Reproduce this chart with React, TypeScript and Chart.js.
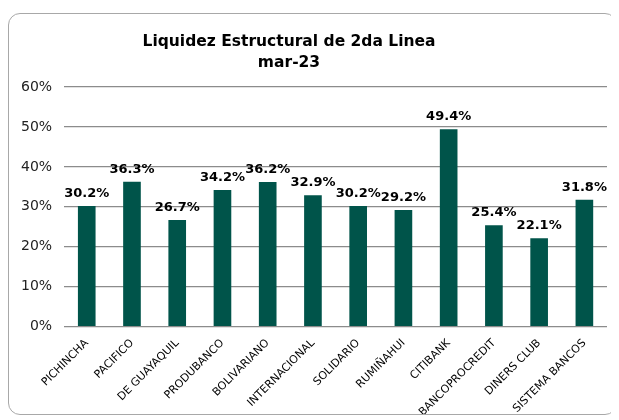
import React, { useEffect, useRef } from "react";
import { Chart, registerables } from "chart.js";

Chart.register(...registerables);

const categories = [
  "PICHINCHA",
  "PACIFICO",
  "DE GUAYAQUIL",
  "PRODUBANCO",
  "BOLIVARIANO",
  "INTERNACIONAL",
  "SOLIDARIO",
  "RUMIÑAHUI",
  "CITIBANK",
  "BANCOPROCREDIT",
  "DINERS CLUB",
  "SISTEMA BANCOS",
];
const values = [30.2, 36.3, 26.7, 34.2, 36.2, 32.9, 30.2, 29.2, 49.4, 25.4, 22.1, 31.8];
const titleLines = ["Liquidez Estructural de 2da Linea", "mar-23"];
const yMax = 60;
const yStep = 10;

const BAR_COLOR = "#00544a";
const FONT = "'DejaVu Sans', Verdana, sans-serif";

const titlePlugin = {
  id: "customTitle",
  afterDraw(chart: any) {
    const { ctx } = chart;
    ctx.save();
    ctx.font = `bold 15.5px ${FONT}`;
    ctx.fillStyle = "#000";
    ctx.textAlign = "center";
    ctx.textBaseline = "alphabetic";
    const cx = 280;
    ctx.fillText(titleLines[0], cx, 32);
    ctx.fillText(titleLines[1], cx, 53);
    ctx.restore();
  },
};

const labelPlugin = {
  id: "valueLabels",
  afterDatasetsDraw(chart: any) {
    const { ctx } = chart;
    const meta = chart.getDatasetMeta(0);
    ctx.save();
    ctx.font = `bold 13px ${FONT}`;
    ctx.fillStyle = "#000";
    ctx.textAlign = "center";
    ctx.textBaseline = "alphabetic";
    meta.data.forEach((bar: any, i: number) => {
      const v = chart.data.datasets[0].data[i];
      ctx.fillText(v.toFixed(1) + "%", bar.x, bar.y - 9);
    });
    ctx.restore();
  },
};

export default function App() {
  const ref = useRef<HTMLCanvasElement>(null);
  useEffect(() => {
    if (!ref.current) return;
    const chart = new Chart(ref.current, {
      type: "bar",
      data: {
        labels: categories,
        datasets: [
          {
            data: values,
            backgroundColor: BAR_COLOR,
            barPercentage: 0.39,
            categoryPercentage: 1,
          },
        ],
      },
      plugins: [labelPlugin, titlePlugin],
      options: {
        animation: false,
        responsive: false,
        layout: { padding: { top: 73, right: 0, left: 0, bottom: -7 } },
        plugins: {
          legend: { display: false },
          tooltip: { enabled: false },
          title: { display: false },
        },
        scales: {
          x: {
            grid: { display: false },
            border: { display: false },
            ticks: {
              color: "#000",
              font: { family: FONT, size: 11 },
              maxRotation: 45,
              minRotation: 45,
              autoSkip: false,
              padding: 2,
            },
          },
          y: {
            min: 0,
            max: yMax,
            ticks: {
              stepSize: yStep,
              color: "#222",
              font: { family: FONT, size: 14 },
              padding: 12,
              callback: (v: any) => v + "%",
            },
            grid: { color: "#8c8c8c", lineWidth: 1.3, drawTicks: false },
            border: { display: false },
          },
        },
      },
    });
    return () => chart.destroy();
  }, []);
  return (
    <div
      style={{
        marginTop: 5,
        width: 609,
        height: 402,
        border: "1px solid #a8a8a8",
        borderRadius: 12,
        boxSizing: "border-box",
        overflow: "hidden",
        background: "#fff",
      }}
    >
      <canvas ref={ref} width={598} height={400} style={{ display: "block" }} />
    </div>
  );
}
